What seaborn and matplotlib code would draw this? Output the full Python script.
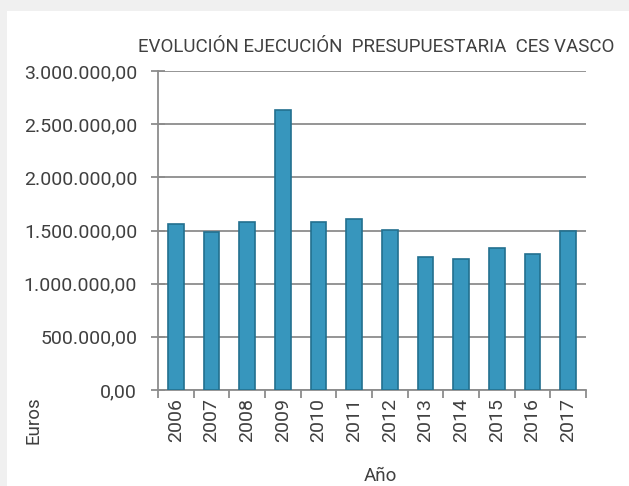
import matplotlib
matplotlib.use("Agg")
import matplotlib.pyplot as plt
import matplotlib.ticker as mticker
import seaborn as sns
import pandas as pd
import numpy as np

# values
years = ["2006", "2007", "2008", "2009", "2010", "2011",
         "2012", "2013", "2014", "2015", "2016", "2017"]
euros = [1560000, 1490000, 1580000, 2630000, 1580000, 1608000,
         1505000, 1247000, 1235000, 1338000, 1281000, 1500000]
yticks = [0, 500000, 1000000, 1500000, 2000000, 2500000, 3000000]

title = "EVOLUCIÓN EJECUCIÓN  PRESUPUESTARIA  CES VASCO"

sns.set_style("white")
plt.rcParams["font.family"] = ["Roboto", "DejaVu Sans"]

txt = "#404040"
grid_c = "#8c8c8c"
df = pd.DataFrame({"Año": years, "Euros": euros})


def es_fmt(v, pos):
    # spanish style: 1.500.000,00
    return f"{v:,.2f}".replace(",", "X").replace(".", ",").replace("X", ".")


fig = plt.figure(figsize=(6.29, 4.86), dpi=100)
fig.patch.set_facecolor("#f0f0f0")

# white panel behind the chart
bg = fig.add_axes([7 / 629, 0, 1 - 7 / 629, 1 - 11 / 486], zorder=0)
bg.set_facecolor("white")
bg.set_xticks([])
bg.set_yticks([])
for s in bg.spines.values():
    s.set_visible(False)

ax = fig.add_axes([158 / 629, 1 - 390 / 486, (586 - 158) / 629, (390 - 71) / 486], zorder=1)
ax.set_facecolor("none")

sns.barplot(data=df, x="Año", y="Euros", ax=ax, width=0.44,
            color="#3796bd", saturation=1, edgecolor="#22708f", linewidth=1.2,
            zorder=3)

ax.set_ylim(0, 3000000)
ax.set_xlim(-0.5, len(years) - 0.5)
ax.set_yticks(yticks)
ax.yaxis.set_major_formatter(mticker.FuncFormatter(es_fmt))
ax.grid(axis="y", color=grid_c, linewidth=1.3, zorder=1)
ax.grid(axis="x", visible=False)
ax.set_axisbelow(True)

for s in ["top", "right"]:
    ax.spines[s].set_visible(False)
for s in ["left", "bottom"]:
    ax.spines[s].set_color(grid_c)
    ax.spines[s].set_linewidth(1.3)

ax.tick_params(axis="y", direction="inout", length=10, width=1.3, color=grid_c,
               labelsize=14, labelcolor=txt, pad=10, left=True)
ax.tick_params(axis="x", which="major", length=0, labelsize=14, labelcolor=txt,
               labelrotation=90, pad=6)
ax.set_xticks(np.arange(-0.5, len(years), 1), minor=True)
ax.tick_params(axis="x", which="minor", direction="out", length=6, width=1.3,
               color=grid_c, bottom=True)
ax.set_xlabel("")
ax.set_ylabel("")

fig.text((140 + 613) / 2 / 629, 1 - 47 / 486, title, ha="center", va="center",
         fontsize=13.5, color=txt)
fig.text(34 / 629, 1 - 420 / 486, "Euros", rotation=90, ha="center", va="center",
         fontsize=13.5, color=txt)
fig.text(380 / 629, 1 - 476 / 486, "Año", ha="center", va="center",
         fontsize=13.5, color=txt)

fig.savefig("out.png", dpi=100, facecolor=fig.get_facecolor())
